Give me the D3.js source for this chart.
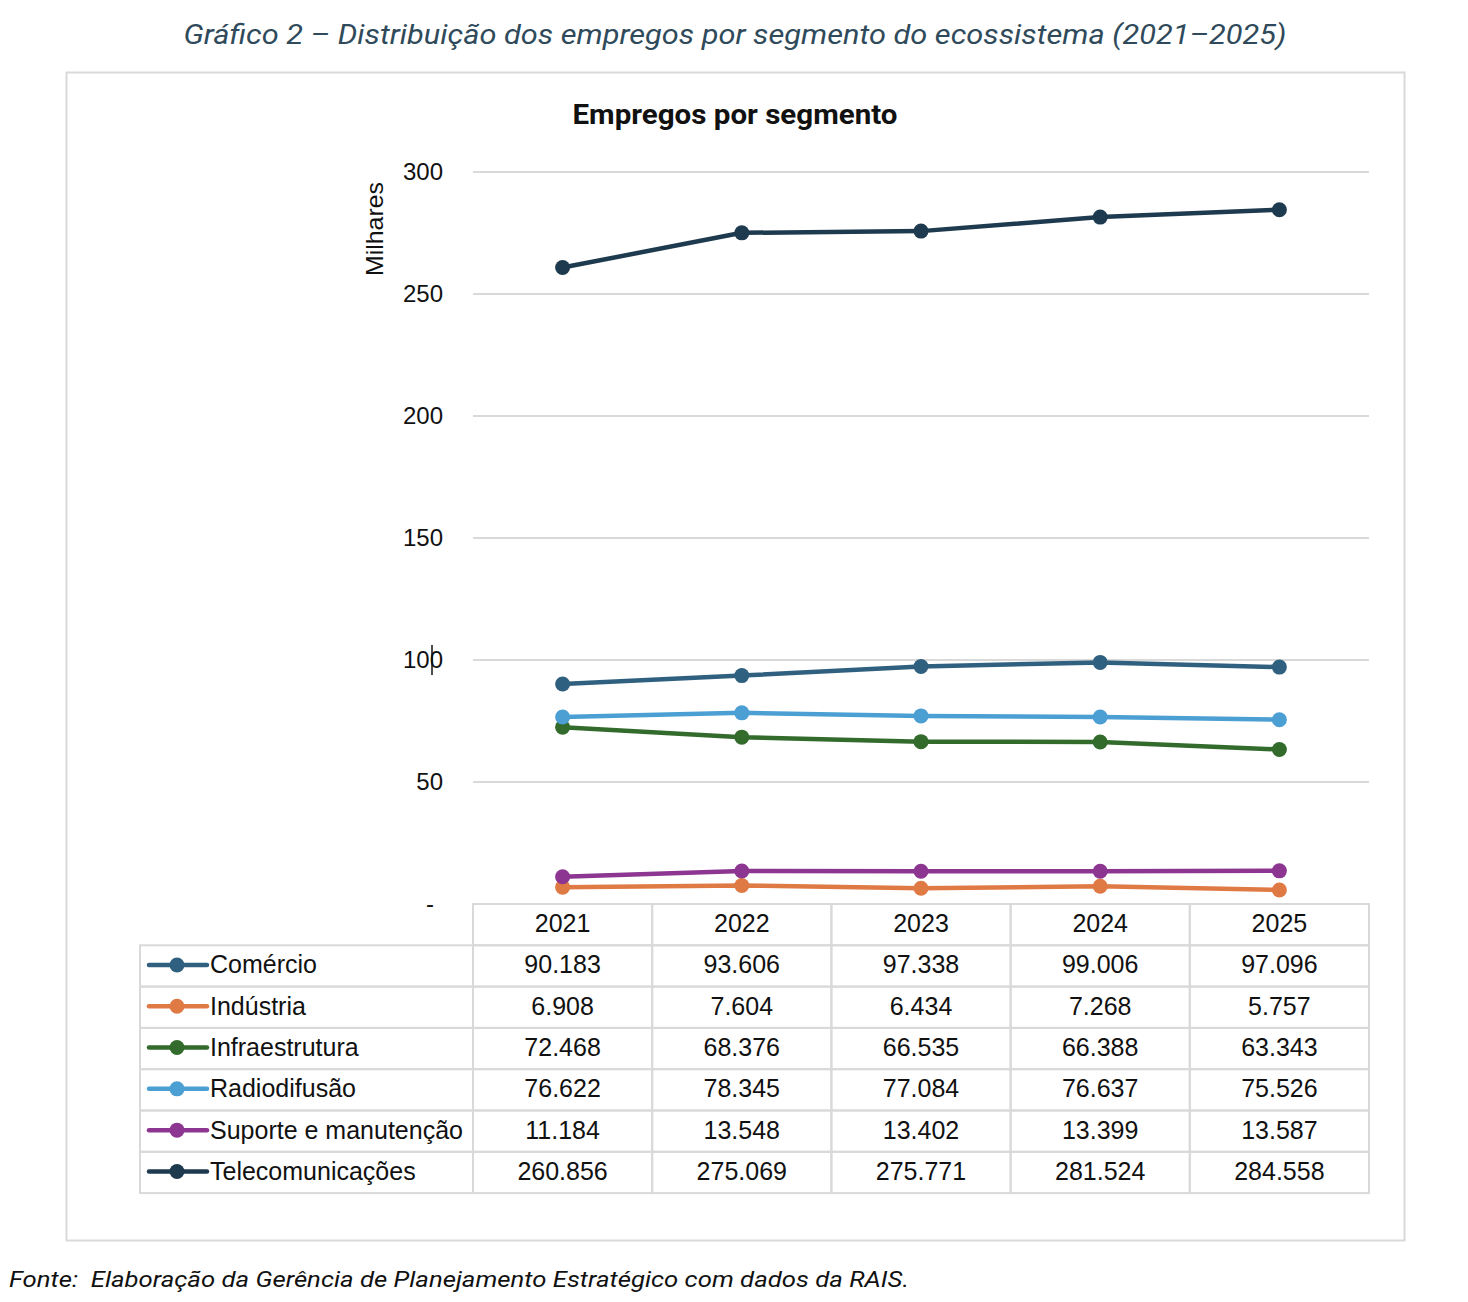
<!DOCTYPE html>
<html><head><meta charset="utf-8">
<script src="https://cdn.jsdelivr.net/npm/d3@7"></script>
<style>body{margin:0;background:#fff;}svg{display:block;}</style>
</head><body>
<script>
const years = ["2021","2022","2023","2024","2025"];
const seriesNames = ["Comércio","Indústria","Infraestrutura","Radiodifusão","Suporte e manutenção","Telecomunicações"];
const comercio = [90.183, 93.606, 97.338, 99.006, 97.096];
const industria = [6.908, 7.604, 6.434, 7.268, 5.757];
const infraestrutura = [72.468, 68.376, 66.535, 66.388, 63.343];
const radiodifusao = [76.622, 78.345, 77.084, 76.637, 75.526];
const suporte = [11.184, 13.548, 13.402, 13.399, 13.587];
const telecom = [260.856, 275.069, 275.771, 281.524, 284.558];
const yTicks = [0, 50, 100, 150, 200, 250, 300];
const colors = ["#30607f","#e07a44","#336b2d","#4b9fd3","#8c3591","#1e3a4e"];
const allValues = [comercio, industria, infraestrutura, radiodifusao, suporte, telecom];

const W = 1468, H = 1302;
const svg = d3.select("body").append("svg").attr("width", W).attr("height", H);
const sans = "Liberation Sans, Arial";

// main title
svg.append("text").attr("x", 735).attr("y", 44).attr("text-anchor","middle")
  .attr("font-family","Roboto").attr("font-style","italic").attr("font-size",27)
  .attr("fill","#2f4a5a").attr("textLength",1103).attr("lengthAdjust","spacingAndGlyphs")
  .text("Gráfico 2 – Distribuição dos empregos por segmento do ecossistema (2021–2025)");

// outer frame
svg.append("rect").attr("x",66.5).attr("y",72.5).attr("width",1338).attr("height",1168)
  .attr("fill","#fff").attr("stroke","#d9d9d9").attr("stroke-width",2);

// chart title
svg.append("text").attr("x", 735).attr("y", 124).attr("text-anchor","middle")
  .attr("font-family","Roboto").attr("font-weight","bold").attr("font-size",27)
  .attr("fill","#111").attr("textLength",325).attr("lengthAdjust","spacingAndGlyphs")
  .text("Empregos por segmento");

const x0 = 473, x1 = 1369;
const x = d3.scaleBand().domain(years).range([x0, x1]);
const y = d3.scaleLinear().domain([0, 300]).range([904, 172]);

// gridlines
svg.append("g").selectAll("line").data(yTicks.filter(d => d > 0)).join("line")
  .attr("x1", x0).attr("x2", x1).attr("y1", d => y(d)).attr("y2", d => y(d))
  .attr("stroke","#d9d9d9").attr("stroke-width",2);

// y tick labels
svg.append("g").selectAll("text").data(yTicks).join("text")
  .attr("x", d => d === 0 ? 434 : 443).attr("y", d => y(d) + 8).attr("text-anchor","end")
  .attr("font-family",sans).attr("font-size",24).attr("fill","#111")
  .text(d => d === 0 ? "-" : d);
// small cursor artifact near 100 label
svg.append("line").attr("x1",432).attr("x2",432).attr("y1",y(100)-15).attr("y2",y(100)+15)
  .attr("stroke","#111").attr("stroke-width",1.5);

// y axis label
svg.append("text").attr("transform","translate(383,229) rotate(-90)").attr("text-anchor","middle")
  .attr("font-family",sans).attr("font-size",24).attr("fill","#111")
  .attr("textLength",94).attr("lengthAdjust","spacingAndGlyphs").text("Milhares");

// series lines & markers
const cx = d => x(d) + x.bandwidth()/2;
const line = d3.line().x((v,i) => cx(years[i])).y(v => y(v));
allValues.forEach((vals, s) => {
  svg.append("path").datum(vals).attr("d", line).attr("fill","none")
    .attr("stroke", colors[s]).attr("stroke-width",4.5).attr("stroke-linejoin","round");
  svg.append("g").selectAll("circle").data(vals).join("circle")
    .attr("cx", (v,i) => cx(years[i])).attr("cy", v => y(v)).attr("r",7.5).attr("fill", colors[s]);
});

// data table
const rowH = 41.3;
const tTop = 904;
const legX0 = 140;
const tg = svg.append("g");
const gridCol = "#d9d9d9";
const fs = 25, base = 7.5;
years.forEach(yr => {
  tg.append("rect").attr("x", x(yr)).attr("y", tTop).attr("width", x.bandwidth()).attr("height", rowH)
    .attr("fill","none").attr("stroke",gridCol).attr("stroke-width",2);
  tg.append("text").attr("x", cx(yr)).attr("y", tTop + rowH/2 + base).attr("text-anchor","middle")
    .attr("font-family",sans).attr("font-size",fs).attr("fill","#111").text(yr);
});
seriesNames.forEach((name, s) => {
  const ry = tTop + rowH*(s+1);
  tg.append("rect").attr("x", legX0).attr("y", ry).attr("width", x0 - legX0).attr("height", rowH)
    .attr("fill","none").attr("stroke",gridCol).attr("stroke-width",2);
  tg.append("line").attr("x1", legX0+9).attr("x2", legX0+67).attr("y1", ry+rowH/2-1).attr("y2", ry+rowH/2-1)
    .attr("stroke", colors[s]).attr("stroke-width",4.5).attr("stroke-linecap","round");
  tg.append("circle").attr("cx", legX0+37).attr("cy", ry+rowH/2-1).attr("r",7.5).attr("fill", colors[s]);
  tg.append("text").attr("x", legX0+70).attr("y", ry+rowH/2+base)
    .attr("font-family",sans).attr("font-size",fs).attr("fill","#111").text(name);
  years.forEach((yr, i) => {
    tg.append("rect").attr("x", x(yr)).attr("y", ry).attr("width", x.bandwidth()).attr("height", rowH)
      .attr("fill","none").attr("stroke",gridCol).attr("stroke-width",2);
    tg.append("text").attr("x", cx(yr)).attr("y", ry + rowH/2 + base).attr("text-anchor","middle")
      .attr("font-family",sans).attr("font-size",fs).attr("fill","#111")
      .text(allValues[s][i].toFixed(3));
  });
});

// source
svg.append("text").attr("x", 9).attr("y", 1287)
  .attr("font-family","Roboto").attr("font-style","italic").attr("font-size",22).attr("fill","#111")
  .attr("textLength",900).attr("lengthAdjust","spacingAndGlyphs")
  .text("Fonte:\u00A0\u00A0Elaboração da Gerência de Planejamento Estratégico com dados da RAIS.");
</script>
</body></html>
